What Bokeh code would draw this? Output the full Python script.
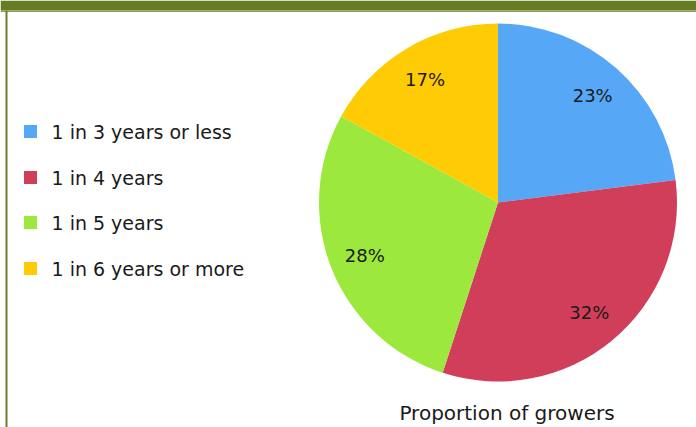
import math
from bokeh.plotting import figure
from bokeh.models import Range1d, BoxAnnotation, ColumnDataSource
from bokeh.core.properties import value
from bokeh.embed import file_html
from bokeh.resources import INLINE

categories = ["1 in 3 years or less", "1 in 4 years", "1 in 5 years", "1 in 6 years or more"]
shares = [23, 32, 28, 17]
colors = ["#56a8f7", "#d13e5a", "#9de83d", "#ffcb05"]
title_text = "Proportion of growers"

W, H = 696, 427
cx, cy, r = 497.5, H - 202, 179
label_r = 0.8 * r

total = sum(shares)
starts, ends, lx, ly, labels = [], [], [], [], []
cum = 0
for s in shares:
    a0 = math.pi / 2 - 2 * math.pi * cum / total
    cum += s
    a1 = math.pi / 2 - 2 * math.pi * cum / total
    starts.append(a0)
    ends.append(a1)
    mid = (a0 + a1) / 2
    lx.append(cx + label_r * math.cos(mid))
    ly.append(cy + label_r * math.sin(mid))
    labels.append(f"{s}%")

src = ColumnDataSource(dict(start=starts, end=ends, color=colors, lx=lx, ly=ly, label=labels))

p = figure(width=W, height=H, x_range=Range1d(0, W), y_range=Range1d(0, H),
           output_backend="svg", toolbar_location=None, min_border=0)
p.axis.visible = False
p.grid.visible = False
p.outline_line_color = None
p.background_fill_color = "white"
p.border_fill_color = "white"

# frame decoration
p.add_layout(BoxAnnotation(left=0, right=W, bottom=H - 10, top=H, fill_color="#667b22", fill_alpha=1, line_color=None))
p.add_layout(BoxAnnotation(left=0, right=W, bottom=H - 11.5, top=H - 10, fill_color="#8fa055", fill_alpha=1, line_color=None))
p.add_layout(BoxAnnotation(left=5, right=7, bottom=0, top=H - 10, fill_color="#6a7f2a", fill_alpha=1, line_color=None))

p.wedge(x=cx, y=cy, radius=r, start_angle="start", end_angle="end", direction="clock",
        fill_color="color", line_color=None, source=src)

p.text(x="lx", y="ly", text="label", source=src, text_align="center", text_baseline="middle",
       text_font=value("DejaVu Sans"), text_font_size="18px", text_color="#1a1a1a")

# legend
leg_y = [H - 131, H - 177, H - 222, H - 268]
p.rect(x=[30] * 4, y=leg_y, width=13, height=13, fill_color=colors, line_color=None)
p.text(x=[51] * 4, y=leg_y, text=categories, text_align="left", text_baseline="middle",
       text_font=value("DejaVu Sans"), text_font_size="19px", text_color="#1a1a1a")

p.text(x=[506.5], y=[H - 412], text=[title_text], text_align="center", text_baseline="middle",
       text_font=value("DejaVu Sans"), text_font_size="20px", text_color="#1a1a1a")

open("out.html", "w").write(file_html(p, INLINE))
